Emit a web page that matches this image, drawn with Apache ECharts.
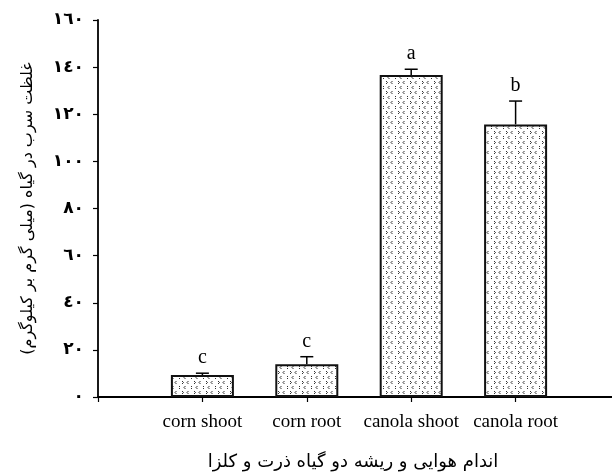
<!DOCTYPE html>
<html>
<head>
<meta charset="utf-8">
<script src="https://cdn.jsdelivr.net/npm/echarts@6/dist/echarts.min.js"></script>
<style>
html,body{margin:0;padding:0;background:#fff;}
#chart{width:612px;height:474px;}
</style>
</head>
<body>
<div id="chart"></div>
<script>
// ---- data ----
var categories = ['corn shoot', 'corn root', 'canola shoot', 'canola root'];
var means = [9.3, 13.9, 136.7, 115.7];
var errors = [0.8, 3.2, 2.4, 9.9];
var letters = ['c', 'c', 'a', 'b'];
var yTicks = [0, 20, 40, 60, 80, 100, 120, 140, 160];
var arabicDigits = ['٠','١','٢','٣','٤','٥','٦','٧','٨','٩'];
var yTitle = '\u200Fغلظت سرب در گیاه (میلی گرم بر کیلوگرم)\u200F';
var xTitle = 'اندام هوایی و ریشه دو گیاه ذرت و کلزا';

function toArabic(n){
  return String(n).split('').map(function(c){ return arabicDigits[+c]; }).join('');
}

// pattern fill
function makePattern(){
  var c = document.createElement('canvas');
  c.width = 12; c.height = 10;
  var g = c.getContext('2d');
  g.fillStyle = '#fff'; g.fillRect(0,0,12,10);
  g.strokeStyle = '#333'; g.lineWidth = 1;
  function chev(x, y, dir){
    g.beginPath();
    g.moveTo(x, y - 1.5);
    g.lineTo(x + dir*1.5, y);
    g.lineTo(x, y + 1.5);
    g.stroke();
  }
  chev(2, 2.5, 1); chev(8.5, 2.5, -1);
  chev(5.5, 7.5, -1); chev(11, 7.5, 1);
  return c;
}

var xCats = [''].concat(categories).concat(['']);
var barData = [null].concat(means).concat([null]);
var errData = means.map(function(m, i){ return [i + 1, m, errors[i]]; });

var chart = echarts.init(document.getElementById('chart'));
var serif = '"Liberation Serif", "DejaVu Sans", serif';
chart.setOption({
  animation: false,
  backgroundColor: '#fff',
  grid: { left: 98, top: 20, width: 522, height: 377, containLabel: false, outerBoundsMode: 'none' },
  xAxis: {
    type: 'category',
    data: xCats,
    boundaryGap: false,
    axisLine: { lineStyle: { color: '#000', width: 1.8 } },
    axisTick: { length: 5, lineStyle: { color: '#000', width: 1.2 },
      interval: function(i){ return i <= 4; } },
    axisLabel: { margin: 16, color: '#000', fontFamily: serif, fontSize: 19, interval: 0 },
    name: xTitle,
    nameLocation: 'middle',
    nameGap: 56,
    nameTextStyle: { color: '#000', fontFamily: '"DejaVu Sans", sans-serif', fontSize: 18, padding: [0, 12, 0, 0] },
    splitLine: { show: false }
  },
  yAxis: {
    type: 'value',
    min: 0, max: 160, interval: 20,
    axisLine: { show: true, lineStyle: { color: '#000', width: 1.8 } },
    axisTick: { show: true, length: 5, lineStyle: { color: '#000', width: 1.2 } },
    axisLabel: { margin: 14, color: '#000', fontFamily: '"DejaVu Sans", sans-serif', fontSize: 17, fontWeight: 'bold',
      formatter: function(v){ return toArabic(v); } },
    splitLine: { show: false },
    name: yTitle,
    nameLocation: 'middle',
    nameRotate: 90,
    nameGap: 62,
    nameTextStyle: { color: '#000', fontFamily: '"DejaVu Sans", sans-serif', fontSize: 16 }
  },
  series: [
    {
      type: 'bar',
      data: barData,
      barWidth: 63,
      itemStyle: { color: { image: makePattern(), repeat: 'repeat' }, borderColor: '#111', borderWidth: 2 },
      z: 2
    },
    {
      type: 'custom',
      data: errData,
      clip: false,
      z: 3,
      renderItem: function(params, api){
        var x = api.value(0), m = api.value(1), e = api.value(2);
        var p0 = api.coord([x, m]);
        var p1 = api.coord([x, m + e]);
        var hw = 6.5;
        return {
          type: 'group',
          children: [
            { type: 'line', shape: { x1: p0[0], y1: p0[1], x2: p1[0], y2: p1[1] },
              style: { stroke: '#000', lineWidth: 1.5 } },
            { type: 'line', shape: { x1: p1[0] - hw, y1: p1[1], x2: p1[0] + hw, y2: p1[1] },
              style: { stroke: '#000', lineWidth: 1.5 } },
            { type: 'text', x: p1[0], y: p1[1] - 15,
              style: { text: letters[params.dataIndex], fill: '#000', font: '20px ' + serif,
                align: 'center', verticalAlign: 'middle' } }
          ]
        };
      }
    }
  ]
});
</script>
</body>
</html>
